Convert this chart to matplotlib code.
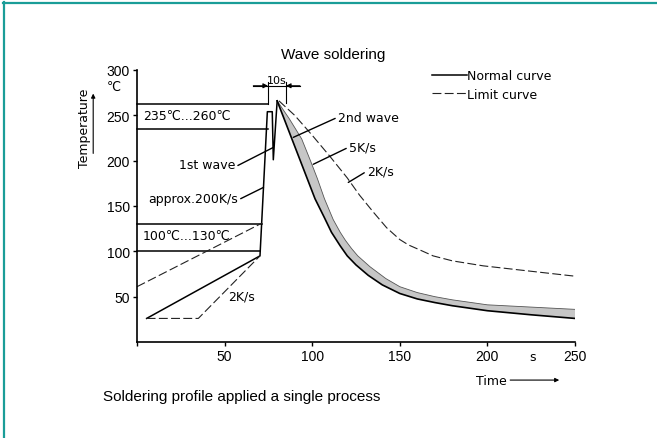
import matplotlib.pyplot as plt
from matplotlib.lines import Line2D

plt.rcParams.update({
    "font.family": ["Liberation Sans", "DejaVu Sans"],
    "font.size": 10,
    "axes.linewidth": 1.2,
})

CAD = ["DejaVu Sans"]

# heating part (preheat ramp + 1st wave + rise to 2nd wave peak)
ramp_t = [5.5, 70.2, 74.4, 77.2, 77.8, 80.0]
ramp_T = [26, 95, 254, 254, 201, 266]

# limit curve in the preheat range
limit_low_t = [5.5, 35.0, 70.2]
limit_low_T = [26, 26, 95]
limit_high_t = [0.0, 71.2]
limit_high_T = [61, 131]

# cooling after the 2nd wave: fast and slow edge of the grey band (5K/s)
fast_t = [80, 84, 88.4, 93.2, 97.2, 101.6, 107, 111, 116, 120, 125, 132, 140, 150,
          160, 170, 180, 200, 225, 250]
fast_T = [266, 246, 224, 200, 180, 158, 137, 121, 106, 95, 85, 73.5, 63, 53.5,
          47.5, 43.5, 40, 34.5, 30, 26]
slow_t = [80, 87, 94, 99, 103, 107, 112, 116, 119, 122.5, 126, 133, 142, 150,
          160, 170, 180, 200, 225, 250]
slow_T = [266, 246, 224, 200, 180, 158, 135, 121, 112, 103, 95, 83, 70, 61,
          54.5, 50, 46.5, 41, 38.5, 36]

# limit curve cooling (2K/s)
limit_t = [81, 90, 100, 110, 120, 127, 135, 142.5, 150, 155, 161.5, 169, 180,
           197.6, 225, 249]
limit_T = [266, 250, 228, 205, 181, 162, 143, 126, 113, 107, 101.5, 95, 89.5,
           84, 78, 72.8]

# temperature windows (preheat / solder bath) and where the lines stop
zone_T = [262, 235, 130, 100]
zone_end = [74.8, 74.8, 71.2, 70.2]

x_ticks = [0, 50, 100, 150, 200, 250]
x_labels = ["", "50", "100", "150", "200", "250"]
y_ticks = [50, 100, 150, 200, 250, 300]

fig = plt.figure(figsize=(6.57, 4.39), dpi=100)
ax = fig.add_axes([137 / 657, 96 / 439, 438 / 657, 272 / 439])
ax.set_xlim(0, 250)
ax.set_ylim(0, 300)
ax.spines["top"].set_visible(False)
ax.spines["right"].set_visible(False)
ax.set_xticks(x_ticks)
ax.set_xticklabels(x_labels)
ax.set_yticks(y_ticks)
ax.tick_params(direction="out", length=3, width=1, labelsize=10, pad=2)

lw = 1.1
for T, x_end in zip(zone_T, zone_end):
    ax.plot([0, x_end], [T, T], color="black", lw=lw, clip_on=False)

normal, = ax.plot(ramp_t, ramp_T, color="black", lw=lw, clip_on=False)
dash = dict(color="#222222", lw=0.8, dashes=(8, 3))
limit, = ax.plot(limit_low_t, limit_low_T, **dash)
ax.plot(limit_high_t, limit_high_T, **dash, clip_on=False)
ax.plot(limit_t, limit_T, **dash)

band_x = fast_t + slow_t[::-1]
band_y = fast_T + slow_T[::-1]
ax.fill(band_x, band_y, color="#c6c6c6", lw=0)
ax.plot(slow_t, slow_T, color="#555555", lw=0.6)
ax.plot(fast_t, fast_T, color="black", lw=1.2)

# 10 s dimension above the peak
ax.plot([74.8, 74.8], [262, 287], color="black", lw=0.8, clip_on=False)
ax.plot([85, 85], [264, 287], color="black", lw=0.8, clip_on=False)
ax.plot([66.4, 93], [282.6, 282.6], color="black", lw=0.8, clip_on=False)
for x0, x1 in [(66.4, 74.8), (93, 85)]:
    ax.annotate("", xy=(x1, 282.6), xytext=(x0, 282.6),
                arrowprops=dict(arrowstyle="-|>", color="black", lw=0.8,
                                shrinkA=0, shrinkB=0, mutation_scale=7))
ax.text(80, 289, "10s", family=CAD, fontsize=8, ha="center", va="center")

ax.text(3.4, 250, "235℃...260℃", family=CAD, fontsize=9, va="center")
ax.text(3.4, 117, "100℃...130℃", family=CAD, fontsize=9, va="center")
ax.text(52, 50.7, "2K/s", family=CAD, fontsize=9, va="center")

lead = dict(arrowstyle="-", color="black", lw=1.0, shrinkA=0, shrinkB=0)
ax.annotate("1st wave", xy=(77.8, 214.6), xytext=(56, 196), family=CAD, fontsize=9,
            ha="right", va="center", arrowprops=dict(lead, relpos=(1, 0.3)))
ax.annotate("approx.200K/s", xy=(72.2, 170.5), xytext=(57.6, 158), family=CAD, fontsize=9,
            ha="right", va="center", arrowprops=dict(lead, relpos=(1, 0.4)))
ax.annotate("2nd wave", xy=(89.2, 225.7), xytext=(114.7, 248), family=CAD, fontsize=9,
            ha="left", va="center", arrowprops=dict(lead, relpos=(0, 0.5)))
ax.annotate("5K/s", xy=(100.6, 196), xytext=(121, 215), family=CAD, fontsize=9,
            ha="left", va="center", arrowprops=dict(lead, relpos=(0, 0.5)))
ax.annotate("2K/s", xy=(120.6, 176), xytext=(131.3, 188.5), family=CAD, fontsize=9,
            ha="left", va="center", arrowprops=dict(lead, relpos=(0, 0.5)))

# axis captions
ax.text(-13, 282, "℃", family=CAD, fontsize=9, ha="center", va="center")
ax.text(-30, 237, "Temperature", rotation=90, family=CAD, fontsize=9,
        ha="center", va="center")
ax.annotate("", xy=(-25, 274), xytext=(-25, 208), annotation_clip=False,
            arrowprops=dict(arrowstyle="-|>", color="black", lw=0.8,
                            shrinkA=0, shrinkB=0, mutation_scale=6))
ax.text(225.5, -16, "s", family=CAD, fontsize=9, ha="center", va="center")
ax.text(202, -42, "Time", family=CAD, fontsize=9, ha="center", va="center")
ax.annotate("", xy=(241, -42), xytext=(213, -42), annotation_clip=False,
            arrowprops=dict(arrowstyle="-|>", color="black", lw=0.8,
                            shrinkA=0, shrinkB=0, mutation_scale=6))

ax.legend([normal, limit], ["Normal curve", "Limit curve"], loc="upper left",
          bbox_to_anchor=(432 / 657, 369 / 439), bbox_transform=fig.transFigure,
          frameon=False, handlelength=2.8, handletextpad=0.0, borderpad=0,
          borderaxespad=0, labelspacing=0.45, prop={"family": CAD, "size": 9})

fig.text(333 / 657, 1 - 55 / 439, "Wave soldering", fontsize=11, ha="center", va="center")
fig.text(103 / 657, 1 - 397 / 439, "Soldering profile applied a single process",
         fontsize=11, ha="left", va="center")

# teal frame (top and left edges visible)
teal = "#1a9d98"
fig.add_artist(Line2D([3 / 657, 1], [1 - 4 / 439, 1 - 4 / 439], color=teal, lw=1.6,
                      transform=fig.transFigure))
fig.add_artist(Line2D([4 / 657, 4 / 657], [0, 1 - 3 / 439], color=teal, lw=1.6,
                      transform=fig.transFigure))

fig.savefig("out.png", dpi=100)
